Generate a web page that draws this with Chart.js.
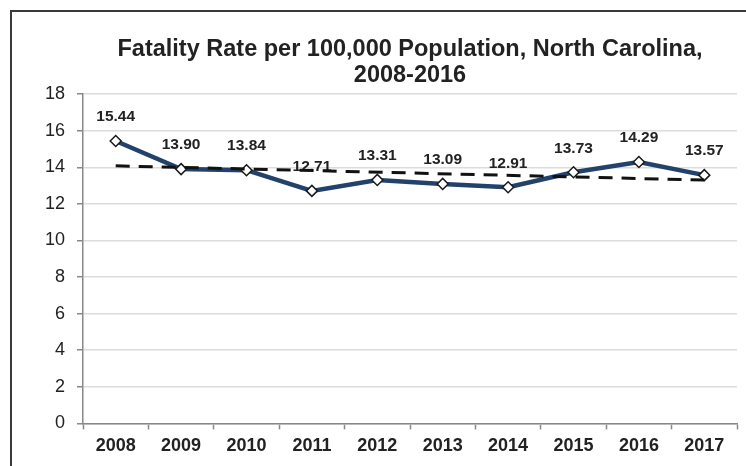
<!DOCTYPE html>
<html>
<head>
<meta charset="utf-8">
<script src="https://cdn.jsdelivr.net/npm/chart.js@4"></script>
<style>
  html, body { margin: 0; padding: 0; background: #fff; overflow: hidden; }
  #frame {
    position: absolute; left: 10px; top: 10px; width: 820px; height: 500px;
    border: 2px solid #3a3a3a; box-sizing: border-box;
  }
  #wrap { position: absolute; left: 0; top: 0; width: 746px; height: 466px; }
</style>
</head>
<body>
<div id="frame"></div>
<div id="wrap"><canvas id="rateChart"></canvas></div>
<script>
const years = ["2008", "2009", "2010", "2011", "2012", "2013", "2014", "2015", "2016", "2017"];
const rates = [15.44, 13.90, 13.84, 12.71, 13.31, 13.09, 12.91, 13.73, 14.29, 13.57];
const trend = [14.08, null, null, null, null, null, null, null, null, 13.30];
const yTicks = [0, 2, 4, 6, 8, 10, 12, 14, 16, 18];

const FONT = "'Liberation Sans', Arial, sans-serif";

// value labels above the points
const valueLabels = {
  id: "valueLabels",
  afterDatasetDraw(chart, args) {
    if (args.index !== 0) return;
    const ctx = chart.ctx;
    ctx.save();
    ctx.font = "bold 15.5px " + FONT;
    ctx.fillStyle = "#222";
    ctx.textAlign = "center";
    ctx.textBaseline = "middle";
    args.meta.data.forEach((pt, i) => {
      ctx.fillText(rates[i].toFixed(2), pt.x, pt.y - 24);
    });
    ctx.restore();
  }
};

new Chart(document.getElementById("rateChart"), {
  type: "line",
  data: {
    labels: years,
    datasets: [
      {
        data: rates,
        order: 1,
        borderColor: "#22416b",
        borderWidth: 4.5,
        tension: 0,
        pointStyle: "rectRot",
        pointRadius: 5.5,
        pointBackgroundColor: "#fff",
        pointBorderColor: "#1a1a1a",
        pointBorderWidth: 1.5
      },
      {
        data: trend,
        order: 0,
        spanGaps: true,
        borderColor: "#111",
        borderWidth: 3,
        borderDash: [14, 9],
        pointRadius: 0
      }
    ]
  },
  options: {
    responsive: true,
    maintainAspectRatio: false,
    animation: false,
    // y labels sit in the left padding so the title centres over the plot
    layout: { padding: { left: 83, right: 9, top: 36, bottom: 3 } },
    plugins: {
      legend: { display: false },
      tooltip: { enabled: false },
      title: {
        display: true,
        text: ["Fatality Rate per 100,000 Population, North Carolina,", "2008-2016"],
        color: "#222",
        font: { family: FONT, size: 23.5, weight: "bold", lineHeight: 1.13 },
        padding: { top: 0, bottom: 5 }
      }
    },
    scales: {
      x: {
        offset: true,
        grid: {
          offset: true,
          drawOnChartArea: false,
          tickLength: 6,
          tickColor: "#888",
          tickWidth: 1.5
        },
        border: { color: "#888", width: 1.5 },
        ticks: {
          color: "#222",
          padding: 6,
          maxRotation: 0,
          font: { family: FONT, size: 18, weight: "bold" }
        }
      },
      y: {
        min: 0,
        max: 18,
        afterBuildTicks(axis) { axis.ticks = yTicks.map(v => ({ value: v })); },
        afterFit(axis) { axis.width = 0; },
        grid: {
          color: "#dcdcdc",
          lineWidth: 1.5,
          tickLength: 6,
          tickColor: "#888",
          tickWidth: 1.5
        },
        border: { color: "#888", width: 1.5 },
        ticks: {
          // mirror avoids the label clip; negative padding puts them back left of the axis
          mirror: true,
          crossAlign: "far",
          padding: -38,
          color: "#222",
          font: { family: FONT, size: 18 }
        }
      }
    }
  },
  plugins: [valueLabels]
});
</script>
</body>
</html>
